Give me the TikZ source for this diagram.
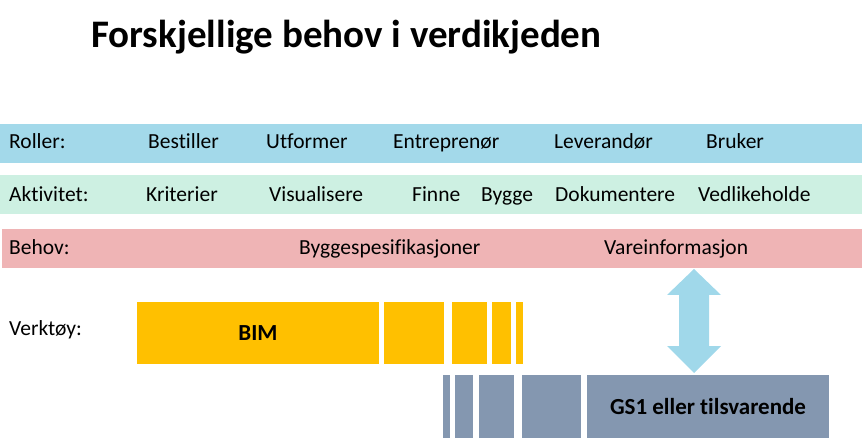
\documentclass[tikz,border=0pt]{standalone}
\usepackage{fontspec}
\setmainfont{Carlito}[Ligatures={NoCommon,NoContextual}]
\usetikzlibrary{calc}
\definecolor{RolleClr}{RGB}{163,217,234}
\definecolor{AktivClr}{RGB}{205,240,226}
\definecolor{BehovClr}{RGB}{239,180,181}
\definecolor{BimClr}{RGB}{255,192,0}
\definecolor{GsClr}{RGB}{132,151,176}
\definecolor{PilClr}{RGB}{160,216,234}

\begin{document}
\begin{tikzpicture}[x=1pt,y=-1pt,
  lbl/.style={anchor=base west,inner sep=0pt,font=\fontsize{21.5}{25}\selectfont},
  bar/.style={inner sep=0pt,text depth=0pt,font=\bfseries\fontsize{23}{27}\selectfont}]
\useasboundingbox (0,0) rectangle (862,446);

% tittel
\node[anchor=base west,inner sep=0pt,font=\bfseries\fontsize{39}{45}\selectfont] (tittel) at (91,48) {Forskjellige behov i verdikjeden};

% baand
\fill[RolleClr] (0,124) rectangle (862,163);
\fill[AktivClr] (0,175) rectangle (862,214);
\fill[BehovClr] (2,229) rectangle (862,268);

\node[lbl] (roller) at (9,149) {Roller:};
\node[lbl] (bestiller) at (148,149) {Bestiller};
\node[lbl] (utformer) at (266,149) {Utformer};
\node[lbl] (entreprenor) at (393,149) {Entreprenør};
\node[lbl] (leverandor) at (554,149) {Leverandør};
\node[lbl] (bruker) at (706,149) {Bruker};

\node[lbl] (aktivitet) at (9,202) {Aktivitet:};
\node[lbl] (kriterier) at (146,202) {Kriterier};
\node[lbl] (visualisere) at (269,202) {Visualisere};
\node[lbl] (finne) at (412,202) {Finne};
\node[lbl] (bygge) at (481,202) {Bygge};
\node[lbl] (dokumentere) at (555,202) {Dokumentere};
\node[lbl] (vedlikeholde) at (698,202) {Vedlikeholde};

\node[lbl] (behov) at (9,255) {Behov:};
\node[lbl] (byggespes) at (299,255) {Byggespesifikasjoner};
\node[lbl] (vareinfo) at (604,255) {Vareinformasjon};

\node[lbl] (verktoy) at (9,335) {Verktøy:};

% BIM
\node[bar,fill=BimClr,minimum width=242pt,minimum height=62pt] (bim) at (258,333) {BIM};
\fill[BimClr] (384,302) rectangle (444,364);
\fill[BimClr] (452,302) rectangle (487,364);
\fill[BimClr] (492,302) rectangle (511,364);
\fill[BimClr] (516,302) rectangle (523,364);

% GS1
\fill[GsClr] (443,375) rectangle (450,438);
\fill[GsClr] (455,375) rectangle (473,438);
\fill[GsClr] (479,375) rectangle (514,438);
\fill[GsClr] (522,375) rectangle (581,438);
\node[bar,fill=GsClr,minimum width=242pt,minimum height=63pt] (gs) at (708,406.5) {GS1 eller tilsvarende};

% pil
\coordinate (P) at (694,269);
\coordinate (Q) at (694,373);
\fill[PilClr] (P) -- ++(27,26) -- ++(-12,0) -- ($(Q)+(15,-27)$) -- ++(12,0) -- (Q)
  -- ++(-27,-27) -- ++(12,0) -- ($(P)+(-15,26)$) -- ++(-12,0) -- cycle;

\end{tikzpicture}
\end{document}
